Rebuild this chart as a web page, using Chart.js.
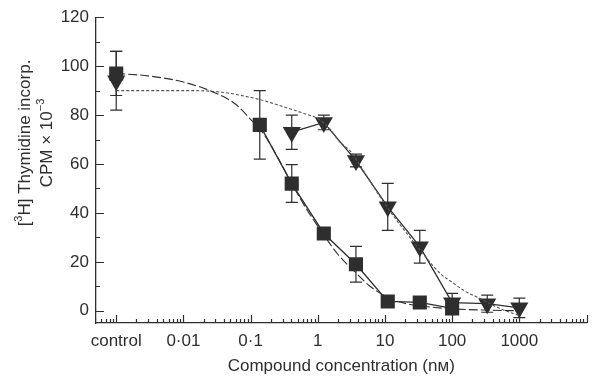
<!DOCTYPE html>
<html>
<head>
<meta charset="utf-8">
<script src="https://cdn.jsdelivr.net/npm/chart.js@4.4.0/dist/chart.umd.min.js"></script>
<style>
html, body { margin: 0; padding: 0; background: #fff; }
#wrap { width: 597px; height: 381px; }
</style>
</head>
<body>
<div id="wrap"><canvas id="c"></canvas></div>
<script>
// x axis: "control" sits at 0.001 nM on the log axis
const tickValues = [0.001, 0.01, 0.1, 1, 10, 100, 1000];
const tickLabels = ["control", "0·01", "0·1", "1", "10", "100", "1000"];
const yTicks = [0, 20, 40, 60, 80, 100, 120];

const controlX = 0.001;
const sqControl = [97], sqControlErr = [9];
const triControl = [94], triControlErr = [12];

// squares
const sqConc = [0.137, 0.41, 1.23, 3.7, 11, 33, 100];
const sqMean = [76, 52, 31.6, 19, 3.8, 3.4, 1.0];
const sqErr = [14, 7.7, 2, 7.3, 2, 2, 2];

// triangles
const triConc = [0.41, 1.23, 3.7, 11, 33, 100, 333, 1000];
const triMean = [73, 77, 61.4, 42.5, 26.2, 3.3, 2.9, 1.2];
const triErr = [7, 3, 2.6, 9.6, 6.7, 3.8, 3.5, 4];

// fitted curves
const sqFitX = [0.001, 0.003, 0.01, 0.03, 0.06, 0.105, 0.165, 0.25, 0.41, 0.7, 1.23, 2, 3.7, 6, 11, 20, 33, 100, 300, 1000];
const sqFitY = [97, 96, 93.5, 89, 84.4, 77.6, 71.4, 63, 52, 41, 31, 23, 15.5, 10, 5.5, 3, 2, 0.8, 0.3, 0];
const triFitX = [0.001, 0.01, 0.03, 0.13, 0.3, 0.6, 1.0, 1.5, 2.05, 3.2, 3.7, 11, 33, 68, 100, 151, 270, 470, 1000];
const triFitY = [90, 90, 89.6, 86.5, 83.5, 80.8, 78.5, 74.5, 69.5, 64.6, 62, 42, 25, 15, 11.7, 8.2, 4.8, 1.4, -2];

const ink = '#2e2e2e';
const fontFam = '"Liberation Sans", Arial, Helvetica, sans-serif';

const pts = (xs, ys) => xs.map((x, i) => ({ x: x, y: ys[i] }));

// error bars, drawn under the markers
const errorBars = {
  id: 'errorBars',
  beforeDatasetsDraw(chart) {
    const { ctx, scales: { x, y } } = chart;
    const sets = [
      [[controlX], sqControl, sqControlErr],
      [[controlX], triControl, triControlErr],
      [sqConc, sqMean, sqErr],
      [triConc, triMean, triErr]
    ];
    ctx.save();
    ctx.strokeStyle = ink;
    ctx.lineWidth = 1.2;
    sets.forEach(([xs, ms, es]) => {
      xs.forEach((v, i) => {
        const px = x.getPixelForValue(v);
        const top = y.getPixelForValue(ms[i] + es[i]);
        const bot = y.getPixelForValue(ms[i] - es[i]);
        ctx.beginPath();
        ctx.moveTo(px, top); ctx.lineTo(px, bot);
        ctx.moveTo(px - 6, top); ctx.lineTo(px + 6, top);
        ctx.moveTo(px - 6, bot); ctx.lineTo(px + 6, bot);
        ctx.stroke();
      });
    });
    ctx.restore();
  }
};

// inward tick marks and the y title
const axisDecor = {
  id: 'axisDecor',
  afterDraw(chart) {
    const { ctx, chartArea: a, scales: { x, y } } = chart;
    ctx.save();
    ctx.strokeStyle = ink;
    ctx.lineWidth = 1.2;
    ctx.beginPath();
    for (let v = 0; v <= 120; v += 10) {
      const py = Math.round(y.getPixelForValue(v)) + 0.5;
      ctx.moveTo(a.left, py);
      ctx.lineTo(a.left + (v % 20 === 0 ? 8 : 4), py);
    }
    for (let d = 0.0001; d <= 10000; d *= 10) {
      for (let m = 1; m <= 9; m++) {
        const v = d * m;
        if (v < x.min * 1.001 || v > x.max * 1.001) continue;
        const px = Math.round(x.getPixelForValue(v)) + 0.5;
        ctx.moveTo(px, a.bottom);
        ctx.lineTo(px, a.bottom - (m === 1 ? 8 : 4));
      }
    }
    ctx.stroke();

    // y title with superscripts
    ctx.fillStyle = ink;
    ctx.textBaseline = 'middle';
    const lines = [
      { cx: 25, parts: [['[', 0], ['3', 1], ['H] Thymidine incorp.', 0]] },
      { cx: 47, parts: [['CPM × 10', 0], ['−3', 1]] }
    ];
    const cy = 143;
    lines.forEach(line => {
      let total = 0;
      line.parts.forEach(([t, s]) => {
        ctx.font = (s ? '11px ' : '17px ') + fontFam;
        total += ctx.measureText(t).width;
      });
      ctx.save();
      ctx.translate(line.cx, cy);
      ctx.rotate(-Math.PI / 2);
      let pos = -total / 2;
      line.parts.forEach(([t, s]) => {
        ctx.font = (s ? '11px ' : '17px ') + fontFam;
        ctx.fillText(t, pos, s ? -6 : 0);
        pos += ctx.measureText(t).width;
      });
      ctx.restore();
    });
    ctx.restore();
  }
};

new Chart(document.getElementById('c'), {
  type: 'scatter',
  data: {
    datasets: [
      {
        data: pts(sqFitX, sqFitY),
        showLine: true, pointRadius: 0, borderColor: ink, borderWidth: 1.1,
        borderDash: [9, 3], cubicInterpolationMode: 'monotone'
      },
      {
        data: pts(triFitX, triFitY),
        showLine: true, pointRadius: 0, borderColor: '#555', borderWidth: 1.1,
        borderDash: [3, 2], cubicInterpolationMode: 'monotone'
      },
      {
        data: pts(triConc, triMean),
        showLine: true, borderColor: ink, borderWidth: 1.3,
        pointStyle: 'triangle', rotation: 180, pointRadius: 10.5,
        pointBackgroundColor: ink, pointBorderColor: ink, pointBorderWidth: 0
      },
      {
        data: pts(sqConc, sqMean),
        showLine: true, borderColor: ink, borderWidth: 1.3,
        pointStyle: 'rect', pointRadius: 10,
        pointBackgroundColor: ink, pointBorderColor: ink, pointBorderWidth: 0
      },
      {
        data: pts([controlX], triControl),
        pointStyle: 'triangle', rotation: 180, pointRadius: 10.5,
        pointBackgroundColor: ink, pointBorderColor: ink, pointBorderWidth: 0
      },
      {
        data: pts([controlX], sqControl),
        pointStyle: 'rect', pointRadius: 10,
        pointBackgroundColor: ink, pointBorderColor: ink, pointBorderWidth: 0
      }
    ]
  },
  options: {
    responsive: true,
    maintainAspectRatio: false,
    animation: false,
    layout: { padding: { left: 0, right: 7, top: 16, bottom: 0 } },
    plugins: { legend: { display: false }, tooltip: { enabled: false } },
    scales: {
      x: {
        type: 'logarithmic',
        min: 0.0005,
        max: 10000,
        afterBuildTicks: s => { s.ticks = tickValues.map(v => ({ value: v })); },
        afterFit: s => { s.height = 58; },
        grid: { display: false, drawTicks: false },
        border: { display: true, color: ink, width: 1.3 },
        ticks: {
          color: ink,
          padding: 8,
          maxRotation: 0,
          autoSkip: false,
          font: { family: fontFam, size: 17 },
          callback: (v) => {
            const i = tickValues.findIndex(t => Math.abs(t - v) / t < 1e-6);
            return i >= 0 ? tickLabels[i] : '';
          }
        },
        title: {
          display: true,
          text: 'Compound concentration (nᴍ)',
          color: ink,
          font: { family: fontFam, size: 17 },
          padding: { top: 4, bottom: 4 }
        }
      },
      y: {
        min: -5,
        max: 120,
        afterBuildTicks: s => { s.ticks = yTicks.map(v => ({ value: v })); },
        afterFit: s => { s.width = 96; },
        grid: { display: false, drawTicks: false },
        border: { display: true, color: ink, width: 1.3 },
        ticks: {
          color: ink,
          padding: 7,
          font: { family: fontFam, size: 17 }
        }
      }
    }
  },
  plugins: [errorBars, axisDecor]
});
</script>
</body>
</html>
